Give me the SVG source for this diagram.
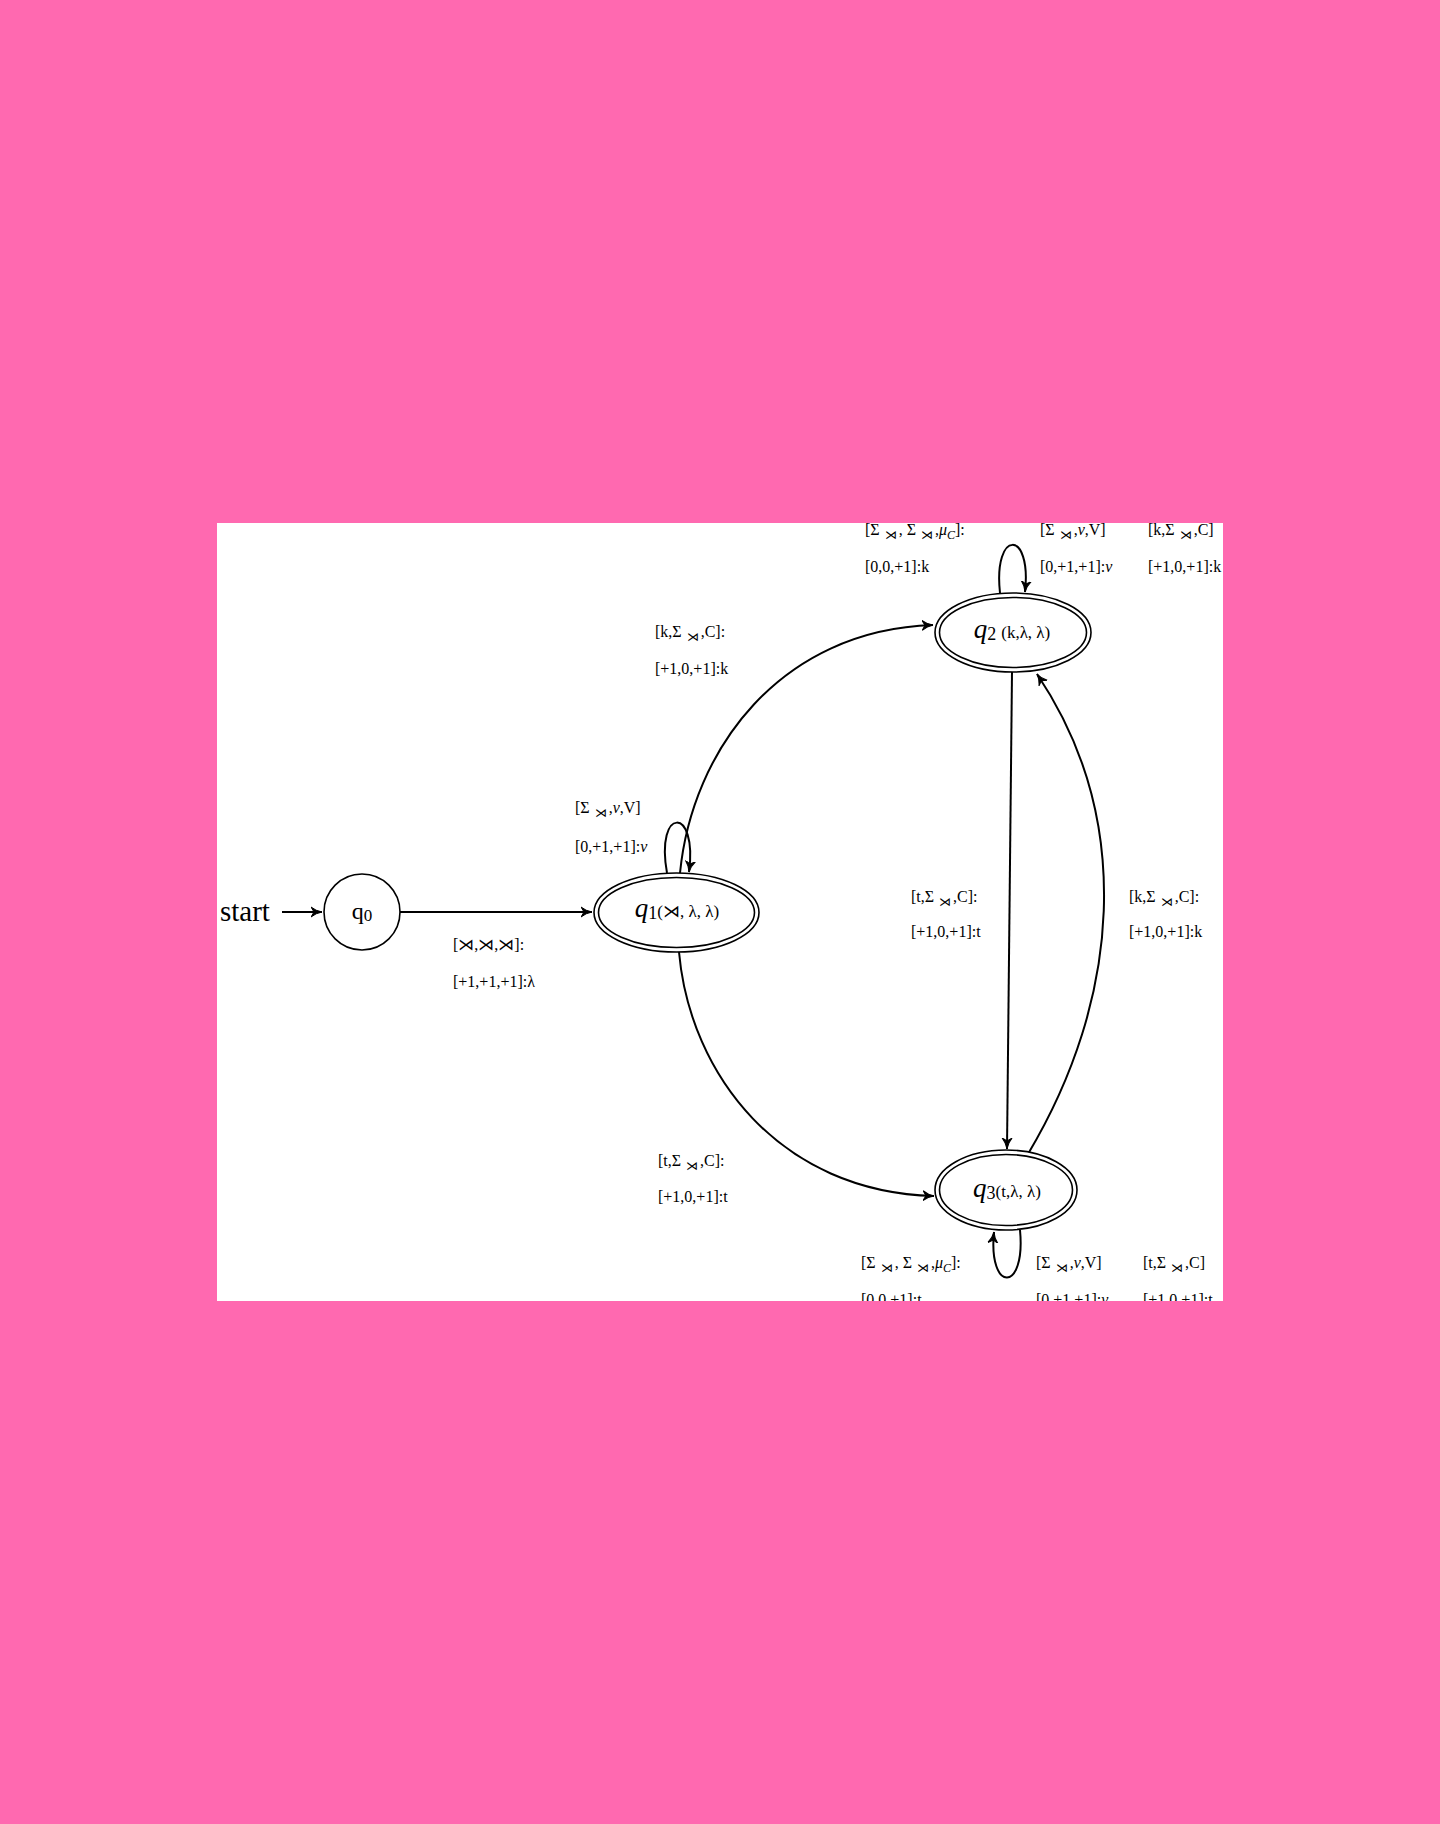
<svg xmlns="http://www.w3.org/2000/svg" width="1440" height="1824" viewBox="0 0 1440 1824">
<style>
.lbl{font-family:"Liberation Serif","DejaVu Serif",serif;font-size:16px;fill:#000}
.sub{font-size:12px}
.it{font-style:italic}
.edge{fill:none;stroke:#000;stroke-width:2}
.ring{fill:#fff;stroke:#000;stroke-width:1.6}
.ringin{fill:none;stroke:#000;stroke-width:1.6}
.qn{font-family:"Liberation Serif","DejaVu Serif",serif;font-size:17px;fill:#000}
.qq{font-size:27px;font-style:italic}
.qs{font-size:18px}
</style>
<defs>
<marker id="arr" markerUnits="userSpaceOnUse" markerWidth="14" markerHeight="12" refX="11" refY="6" orient="auto">
<path d="M0,1 Q5,5 11,6 Q5,7 0,11 L3,6 Z" fill="#000" stroke="#000" stroke-width="1"/>
</marker>
<clipPath id="clip"><rect x="217" y="523" width="1006" height="778"/></clipPath>
</defs>
<rect x="0" y="0" width="1440" height="1824" fill="#ff69b0"/>
<rect x="217" y="523" width="1006" height="778" fill="#fff"/>
<g clip-path="url(#clip)">
<g id="connectors">
<line class="edge" x1="282" y1="912" x2="322" y2="912" marker-end="url(#arr)"/>
<line class="edge" x1="400" y1="912" x2="592" y2="912" marker-end="url(#arr)"/>
<path class="edge" d="M680,873 C692,750 780,630 933,625" marker-end="url(#arr)"/>
<path class="edge" d="M679,952 C690,1075 780,1192 934,1196" marker-end="url(#arr)"/>
<path class="edge" d="M1012,672 L1007,1149" marker-end="url(#arr)"/>
<path class="edge" d="M1028,1154 C1120,1000 1135,820 1037,674" marker-end="url(#arr)"/>
<path class="edge" d="M667,873 C655,806 698,806 689,872" marker-end="url(#arr)"/>
<path class="edge" d="M1000,593 C993,529 1032,529 1025,592" marker-end="url(#arr)"/>
<path class="edge" d="M1020,1230 C1026,1293 988,1293 994,1232" marker-end="url(#arr)"/>
</g>
<g id="edge-labels">
<text class="lbl" x="453" y="950">[⋊,⋊,⋊]:</text>
<text class="lbl" x="453" y="987">[+1,+1,+1]:λ</text>
<text class="lbl" x="575" y="813">[Σ<tspan class="sub" dx="5" dy="4">⋊</tspan><tspan dx="2" dy="-4">,</tspan><tspan class="it">v</tspan>,V]</text>
<text class="lbl" x="575" y="852">[0,+1,+1]:<tspan class="it">v</tspan></text>
<text class="lbl" x="655" y="637">[k,Σ<tspan class="sub" dx="5" dy="4">⋊</tspan><tspan dx="2" dy="-4">,C]:</tspan></text>
<text class="lbl" x="655" y="674">[+1,0,+1]:k</text>
<text class="lbl" x="658" y="1166">[t,Σ<tspan class="sub" dx="5" dy="4">⋊</tspan><tspan dx="2" dy="-4">,C]:</tspan></text>
<text class="lbl" x="658" y="1202">[+1,0,+1]:t</text>
<text class="lbl" x="911" y="902">[t,Σ<tspan class="sub" dx="5" dy="4">⋊</tspan><tspan dx="2" dy="-4">,C]:</tspan></text>
<text class="lbl" x="911" y="937">[+1,0,+1]:t</text>
<text class="lbl" x="1129" y="902">[k,Σ<tspan class="sub" dx="5" dy="4">⋊</tspan><tspan dx="2" dy="-4">,C]:</tspan></text>
<text class="lbl" x="1129" y="937">[+1,0,+1]:k</text>
<text class="lbl" x="865" y="535">[Σ<tspan class="sub" dx="5" dy="4">⋊</tspan><tspan dx="2" dy="-4">, Σ</tspan><tspan class="sub" dx="5" dy="4">⋊</tspan><tspan dx="2" dy="-4">,</tspan><tspan class="it">μ</tspan><tspan class="sub it" dy="4">C</tspan><tspan dy="-4">]:</tspan></text>
<text class="lbl" x="865" y="572">[0,0,+1]:k</text>
<text class="lbl" x="1040" y="535">[Σ<tspan class="sub" dx="5" dy="4">⋊</tspan><tspan dx="2" dy="-4">,</tspan><tspan class="it">v</tspan>,V]</text>
<text class="lbl" x="1040" y="572">[0,+1,+1]:<tspan class="it">v</tspan></text>
<text class="lbl" x="1148" y="535">[k,Σ<tspan class="sub" dx="5" dy="4">⋊</tspan><tspan dx="2" dy="-4">,C]</tspan></text>
<text class="lbl" x="1148" y="572">[+1,0,+1]:k</text>
<text class="lbl" x="861" y="1268">[Σ<tspan class="sub" dx="5" dy="4">⋊</tspan><tspan dx="2" dy="-4">, Σ</tspan><tspan class="sub" dx="5" dy="4">⋊</tspan><tspan dx="2" dy="-4">,</tspan><tspan class="it">μ</tspan><tspan class="sub it" dy="4">C</tspan><tspan dy="-4">]:</tspan></text>
<text class="lbl" x="861" y="1305">[0,0,+1]:t</text>
<text class="lbl" x="1036" y="1268">[Σ<tspan class="sub" dx="5" dy="4">⋊</tspan><tspan dx="2" dy="-4">,</tspan><tspan class="it">v</tspan>,V]</text>
<text class="lbl" x="1036" y="1305">[0,+1,+1]:<tspan class="it">v</tspan></text>
<text class="lbl" x="1143" y="1268">[t,Σ<tspan class="sub" dx="5" dy="4">⋊</tspan><tspan dx="2" dy="-4">,C]</tspan></text>
<text class="lbl" x="1143" y="1305">[+1,0,+1]:t</text>
</g>
<g id="start">
<text x="220" y="921" font-family="Liberation Serif, serif" font-size="29">start</text>
</g>
<g id="q0">
<circle cx="362" cy="912" r="38" class="ring"/>
<text x="362" y="919" text-anchor="middle" font-family="Liberation Serif, serif" font-size="24">q<tspan font-size="17" dy="2">0</tspan></text>
</g>
<g id="q1">
<ellipse cx="676.5" cy="912.5" rx="82.5" ry="39.5" class="ring"/>
<ellipse cx="676.5" cy="912.5" rx="78" ry="35" class="ringin"/>
<text class="qn" x="677" y="917" text-anchor="middle"><tspan class="qq">q</tspan><tspan class="qs" dy="2">1</tspan><tspan dy="-2">(⋊, λ, λ)</tspan></text>
</g>
<g id="q2">
<ellipse cx="1013" cy="632.5" rx="78" ry="39.5" class="ring"/>
<ellipse cx="1013" cy="632.5" rx="73.5" ry="35" class="ringin"/>
<text class="qn" x="1012" y="638" text-anchor="middle"><tspan class="qq">q</tspan><tspan class="qs" dy="2">2</tspan><tspan dy="-2" dx="5">(k,λ, λ)</tspan></text>
</g>
<g id="q3">
<ellipse cx="1006" cy="1190" rx="71" ry="40" class="ring"/>
<ellipse cx="1006" cy="1190" rx="66.5" ry="35.5" class="ringin"/>
<text class="qn" x="1007" y="1197" text-anchor="middle"><tspan class="qq">q</tspan><tspan class="qs" dy="2">3</tspan><tspan dy="-2">(t,λ, λ)</tspan></text>
</g>
</g>
</svg>
